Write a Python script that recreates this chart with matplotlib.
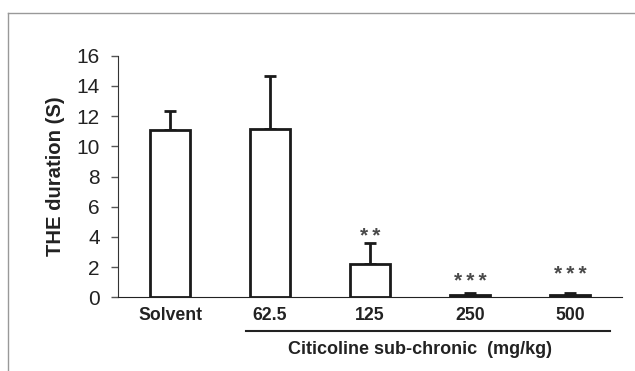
import numpy as np
import matplotlib.pyplot as plt
from matplotlib.lines import Line2D

plt.rcParams['font.family'] = ['Liberation Sans', 'DejaVu Sans']

groups = ['Solvent', '62.5', '125', '250', '500']
means = [11.1, 11.15, 2.2, 0.15, 0.15]
sem = [1.25, 3.5, 1.4, 0.12, 0.12]
stars = ['', '', '*\u2009*', '*\u2009*\u2009*', '*\u2009*\u2009*']
star_y = [0, 0, 3.64, 0.68, 1.15]

fig = plt.figure(figsize=(6.35, 3.71), dpi=100)
ax = fig.add_axes([118 / 635, 1 - 297.3 / 371, (622 - 118) / 635, (297.3 - 55.7) / 371])

x = np.arange(len(groups))
ax.bar(x, means, width=0.4, color='white', edgecolor='#1a1a1a', linewidth=2, zorder=2)
ax.errorbar(x, means, yerr=[np.zeros(len(sem)), sem], fmt='none', ecolor='#1a1a1a',
            elinewidth=2, capsize=4, capthick=2, zorder=1)

for xi, s, sy in zip(x, stars, star_y):
    if s:
        ax.text(xi, sy, s, ha='center', va='baseline', fontsize=15,
                fontweight='bold', color='#4a4a4a')

ax.set_xlim(-0.52, 4.52)
ax.set_ylim(0, 16)
ax.set_yticks(range(0, 17, 2))
ax.set_xticks(x)
ax.set_xticklabels(groups, fontweight='bold', fontsize=12.7, color='#222222')
ax.tick_params(axis='x', length=0, pad=7)
ax.tick_params(axis='y', length=5, width=1, labelsize=15, colors='#555555',
               labelcolor='#222222', pad=8)
ax.spines['top'].set_visible(False)
ax.spines['right'].set_visible(False)
ax.spines['left'].set_color('#333333')
ax.spines['bottom'].set_color('#222222')
ax.set_ylabel('THE duration (S)', fontweight='bold', fontsize=14.6, color='#222222', labelpad=8)

# bracket for citicoline groups
fig.add_artist(Line2D([246 / 635, 610 / 635], [1 - 331 / 371, 1 - 331 / 371], color='#222222', lw=1.5))
fig.text(420 / 635, 1 - 350 / 371, 'Citicoline sub-chronic  (mg/kg)', ha='center', va='center',
         fontsize=13, fontweight='bold', color='#222222')

# grey frame around the figure
fig.add_artist(Line2D([8 / 635, 1], [1 - 13 / 371, 1 - 13 / 371], color='#999999', lw=1))
fig.add_artist(Line2D([8 / 635, 8 / 635], [0, 1 - 13 / 371], color='#999999', lw=1))

fig.savefig('out.png', dpi=100)
